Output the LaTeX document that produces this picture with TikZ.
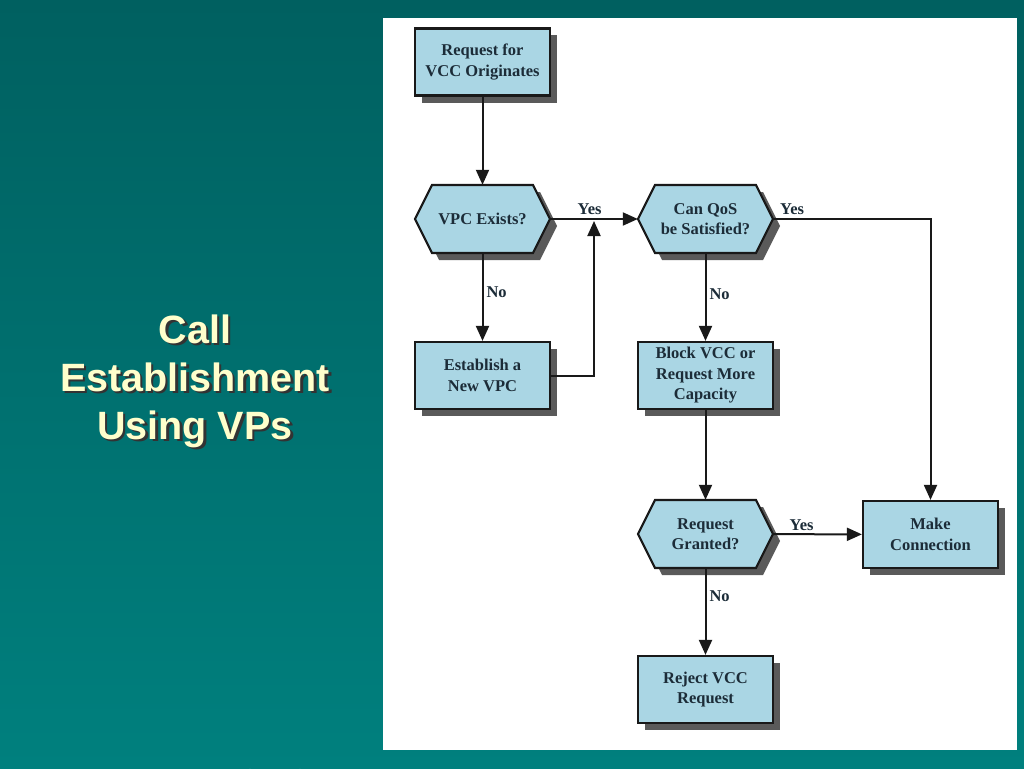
\documentclass[tikz,border=0pt]{standalone}
\usepackage{fontspec}
\setmainfont{Liberation Serif}
\newfontfamily\titlefont{Liberation Sans}
\usetikzlibrary{arrows.meta,calc,shadows}

\definecolor{boxfill}{RGB}{170,214,228}
\definecolor{boxtext}{RGB}{28,44,56}
\definecolor{tealtop}{RGB}{0,96,96}
\definecolor{tealbot}{RGB}{0,128,126}
\definecolor{cream}{RGB}{255,255,204}
\definecolor{shadowgray}{RGB}{90,90,90}
\definecolor{linecol}{RGB}{25,25,25}

\tikzset{
  txt/.style={font=\bfseries\fontsize{16.5}{20.5}\selectfont, text=boxtext},
  box/.style={txt, draw=linecol, line width=2.2pt, fill=boxfill,
    minimum width=135pt, minimum height=67pt, inner sep=0pt, align=center,
    drop shadow={shadow xshift=7pt, shadow yshift=-7pt, fill=shadowgray, opacity=1}},
  decision/.style={txt, minimum width=135pt, minimum height=68pt, inner sep=0pt, align=center},
  hexline/.style={draw=linecol, line width=2.2pt, fill=boxfill, line join=miter},
  flow/.style={line width=2pt, draw=linecol, -{Triangle[length=15pt,width=13pt]}},
  lbl/.style={txt, inner sep=3pt},
  ttl/.style={font=\titlefont\bfseries\fontsize{39.5}{48}\selectfont, align=center}
}

\newcommand\hexpath[2]{(#1,#2) ++(-67.5,0) -- ++(17,-34) -- ++(101,0) -- ++(17,34) -- ++(-17,34) -- ++(-101,0) -- cycle}
\newcommand\hexnode[4]{%
  \fill[shadowgray] \hexpath{#2+7}{#3+7};
  \path[hexline] \hexpath{#2}{#3};
  \node[decision] (#1) at (#2,#3) {#4};
}

\begin{document}
\begin{tikzpicture}[x=1pt,y=-1pt]
\useasboundingbox (0,0) rectangle (1024,768);
\shade[top color=tealtop, bottom color=tealbot] (0,0) rectangle (1024,768);
\draw[white, opacity=0.06, line width=1.2pt] (250,768) arc[start angle=180, end angle=120, radius=260];
\draw[white, opacity=0.05, line width=1.2pt] (300,768) arc[start angle=180, end angle=125, radius=200];

\fill[white] (383,18) rectangle (1017,750);

% title
\node[ttl, text=black!80] (titleshadow) at (197.5,383.5) {Call\\Establishment\\Using VPs};
\node[ttl, text=cream] (title) at (195,381) {Call\\Establishment\\Using VPs};

% nodes
\node[box] (n1) at (482.5,62) {Request for\\VCC Originates};
\hexnode{n2}{482.5}{219}{VPC Exists?}
\hexnode{n3}{705.5}{219}{Can QoS\\be Satisfied?}
\node[box] (n4) at (482.5,375.5) {Establish a\\New VPC};
\node[box] (n5) at (705.5,375.5) {Block VCC or\\Request More\\Capacity};
\hexnode{n6}{705.5}{534}{Request\\Granted?}
\node[box] (n7) at (930.5,534.5) {Make\\Connection};
\node[box] (n8) at (705.5,689.5) {Reject VCC\\Request};

\coordinate (m) at (594,221);

% connectors
\draw[flow] (n1) -- (n2);
\draw[flow] (n2) -- node[lbl, above, pos=0.45]{Yes} (n3);
\draw[flow] (n2) -- node[lbl, right, pos=0.45]{No} (n4);
\draw[flow] (n4.east) -| (m);
\draw[flow] (n3.east) -| node[lbl, above, pos=0.06]{Yes} (n7.north);
\draw[flow] (n3) -- node[lbl, right, pos=0.47]{No} (n5);
\draw[flow] (n5) -- (n6);
\draw[flow] (n6) -- node[lbl, above, pos=0.32]{Yes} (n7);
\draw[flow] (n6) -- node[lbl, right, pos=0.32]{No} (n8);
\end{tikzpicture}
\end{document}
